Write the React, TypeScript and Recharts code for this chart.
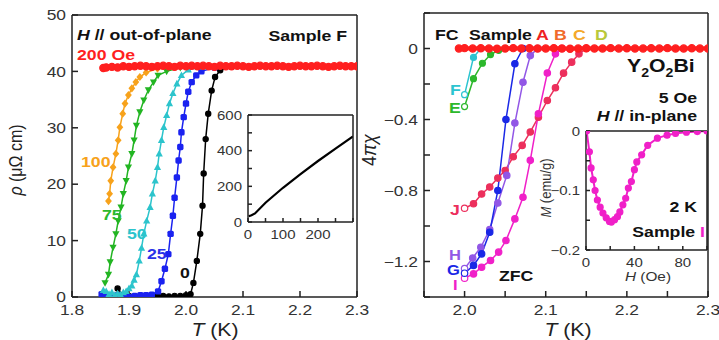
import React from 'react'
import { LineChart, Line, XAxis, YAxis } from 'recharts'

const FONT = '"Liberation Sans", Arial, sans-serif'

// ---- left panel: rho (μΩ cm) vs T (K), one series per field (Oe) ----
const rho0: [number, number][] = [
  [1.88, 1.5], [1.89, 0.3], [1.9, 0.2], [1.92, 0.1], [1.94, 0.1], [1.95, 0.2], [1.96, 0.2],
  [1.97, 0.1], [1.98, 0.2], [1.99, 0.2], [2.0, 0.3], [2.008, 0.5], [2.013, 2.5], [2.019, 6.4],
  [2.025, 11.2], [2.029, 16.2], [2.031, 21.9], [2.0345, 28], [2.039, 32.5], [2.045, 36.6],
  [2.051, 39], [2.06, 40.2], [2.08, 40.8], [2.15, 40.9], [2.3, 40.9],
]
const rho25: [number, number][] = [
  [1.852, 0.5], [1.86, 0.3], [1.87, 0.1], [1.88, 0.3], [1.89, 0.2], [1.9, 0], [1.91, 0.2],
  [1.92, 0.3], [1.93, 0.3], [1.94, 0.4], [1.951, 1], [1.957, 2.8], [1.963, 5], [1.969, 7.6],
  [1.973, 11.2], [1.977, 14.4], [1.98, 17.6], [1.984, 21.2], [1.987, 24.2], [1.99, 26.6],
  [1.992, 29.2], [1.996, 31.9], [2.0, 34.3], [2.004, 36.4], [2.01, 38.1], [2.018, 39.3],
  [2.027, 40.0], [2.05, 40.7], [2.3, 40.9],
]
const rho50: [number, number][] = [
  [1.855, 1.2], [1.86, 1], [1.865, 0.5], [1.87, 0.8], [1.875, 0.3], [1.88, 0.6], [1.885, 0.4],
  [1.89, 0.8], [1.895, 1.0], [1.9, 1.5], [1.905, 2], [1.909, 3], [1.913, 4], [1.918, 6.4],
  [1.922, 8.7], [1.926, 11.2], [1.931, 13.5], [1.937, 15.9], [1.941, 18.3], [1.946, 20.6],
  [1.95, 23], [1.953, 25.4], [1.957, 27.8], [1.961, 30.1], [1.966, 32.2], [1.971, 34.3],
  [1.977, 36.1], [1.984, 37.8], [1.992, 39.3], [2.004, 40.3], [2.03, 40.8], [2.3, 40.9],
]
const rho75: [number, number][] = [
  [1.858, 2.5], [1.864, 4], [1.867, 6.2], [1.872, 8.8], [1.877, 11.2], [1.881, 13.5],
  [1.886, 15.9], [1.89, 18.3], [1.895, 20.6], [1.899, 23], [1.905, 25.4], [1.909, 27.8],
  [1.913, 30.4], [1.919, 32.8], [1.926, 34.9], [1.934, 36.7], [1.943, 38.1], [1.951, 39.3],
  [1.966, 40], [1.99, 40.7], [2.3, 40.9],
]
const rho100: [number, number][] = [
  [1.864, 17], [1.866, 18.3], [1.868, 20.6], [1.872, 23], [1.877, 25.4], [1.881, 27.8],
  [1.884, 30.1], [1.889, 32.5], [1.893, 34.3], [1.899, 35.8], [1.905, 37], [1.912, 38.1],
  [1.919, 39], [1.93, 39.8], [1.95, 40.5], [2.3, 40.9],
]
const rho200: [number, number][] = [
  [1.855, 40.6], [1.86, 40.7], [1.87, 40.8], [1.88, 40.7], [1.89, 40.9], [1.9, 40.8], [1.91, 40.9],
  [1.92, 41.0], [1.93, 40.9], [1.94, 40.8], [1.95, 40.9], [1.96, 41.0], [1.97, 40.9], [1.98, 40.8],
  [1.99, 41.0], [2.0, 40.9], [2.01, 41.0], [2.02, 40.9], [2.03, 41.0], [2.04, 40.9], [2.05, 40.8],
  [2.06, 41.0], [2.07, 40.9], [2.08, 40.9], [2.09, 41.0], [2.1, 40.9], [2.11, 40.8], [2.12, 40.9],
  [2.13, 41.0], [2.14, 40.9], [2.15, 40.9], [2.16, 41.0], [2.17, 40.9], [2.18, 40.8], [2.19, 40.9],
  [2.2, 41.0], [2.21, 40.9], [2.22, 40.9], [2.23, 41.0], [2.24, 40.9], [2.25, 40.8], [2.26, 40.9],
  [2.27, 41.0], [2.28, 40.9], [2.29, 40.9], [2.3, 40.9],
]
// inset: rho vs T up to room temperature
const rhoWide: [number, number][] = [
  [2, 32], [10, 38], [20, 48], [50, 108], [100, 192], [150, 268], [200, 342], [250, 412], [300, 480],
]

// ---- right panel: 4πχ vs T (K), samples E..J (ZFC) and FC ----
const chiF: [number, number][] = [[2.0, -0.26], [2.011, -0.05], [2.02, 0]]
const chiE: [number, number][] = [
  [2.0, -0.327], [2.011, -0.17], [2.022, -0.083], [2.032, -0.034], [2.042, -0.01], [2.05, 0],
]
const chiG: [number, number][] = [
  [2.0, -1.266], [2.011, -1.222], [2.021, -1.157], [2.031, -1.035], [2.041, -0.8],
  [2.051, -0.4], [2.062, -0.086], [2.072, 0],
]
const chiH: [number, number][] = [
  [2.0, -1.24], [2.01, -1.18], [2.02, -1.12], [2.031, -1.02], [2.041, -0.87], [2.052, -0.715],
  [2.062, -0.42], [2.072, -0.19], [2.081, -0.04], [2.09, 0],
]
const chiI: [number, number][] = [
  [2.0, -1.294], [2.011, -1.27], [2.021, -1.232], [2.032, -1.194], [2.042, -1.147],
  [2.051, -1.082], [2.062, -0.96], [2.072, -0.838], [2.081, -0.63], [2.091, -0.368],
  [2.102, -0.138], [2.112, -0.03], [2.12, 0],
]
const chiJ: [number, number][] = [
  [2.0, -0.9], [2.011, -0.875], [2.021, -0.82], [2.031, -0.78], [2.041, -0.73], [2.05, -0.687],
  [2.06, -0.61], [2.071, -0.546], [2.081, -0.47], [2.091, -0.387], [2.102, -0.293],
  [2.112, -0.221], [2.122, -0.139], [2.132, -0.077], [2.141, -0.03], [2.15, 0],
]
const chiFC: [number, number][] = [
  [1.993, 0], [2.0, 0.002], [2.01, 0], [2.02, 0.001], [2.03, 0], [2.04, -0.001], [2.05, 0],
  [2.06, 0.002], [2.07, 0], [2.08, 0.001], [2.09, 0], [2.1, 0], [2.11, 0.002], [2.12, 0],
  [2.13, -0.001], [2.14, 0], [2.15, 0.001], [2.16, 0], [2.17, 0], [2.18, 0.002], [2.19, 0],
  [2.2, 0.001], [2.21, 0], [2.22, 0], [2.23, 0.001], [2.24, 0], [2.25, 0.002], [2.26, 0],
  [2.27, 0], [2.28, 0.001], [2.29, 0], [2.3, 0],
]
// inset: M (emu/g) vs H (Oe) at 2 K, sample I
const magI: [number, number][] = [
  [0.5, 0], [2.8, -0.035], [4.2, -0.062], [6, -0.082], [7.5, -0.1], [9.4, -0.116], [11.7, -0.128],
  [14, -0.138], [16.7, -0.146], [19.4, -0.152], [21, -0.153], [23.6, -0.149], [26, -0.144],
  [28, -0.136], [30.5, -0.124], [32.8, -0.113], [35, -0.096], [37.5, -0.085], [40, -0.065],
  [42, -0.052], [46, -0.04], [51, -0.024], [59, -0.012], [67, -0.007], [74, -0.004],
  [83, -0.002], [92, -0.001], [100, 0],
]

const leftXTicks = [1.8, 1.9, 2.0, 2.1, 2.2, 2.3]
const leftYTicks = [0, 10, 20, 30, 40, 50]
const rightXTicks = [1.95, 2.0, 2.05, 2.1, 2.15, 2.2, 2.25, 2.3]
const rightYTicks = [-1.4, -1.2, -1.0, -0.8, -0.6, -0.4, -0.2, 0, 0.2]
const insetTTicks = [0, 50, 100, 150, 200, 250, 300]
const insetRhoTicks = [0, 100, 200, 300, 400, 500, 600]
const insetHTicks = [0, 20, 40, 60, 80, 100]
const insetMTicks = [-0.2, -0.15, -0.1, -0.05, 0]

const pts = (a: [number, number][]) => a.map(([x, y]) => ({ x, y }))
const minus = (v: number, d: number) => (v < 0 ? '\u2212' : '') + Math.abs(v).toFixed(d)

type Shape = 'circle' | 'square' | 'up' | 'down' | 'diamond'
const marker = (shape: Shape, color: string, r: number, openFirst = false) => (p: any) => {
  const { cx, cy, index } = p
  const key = `${shape}-${color}-${index}`
  if (cx == null || cy == null) return <g key={key} />
  const fill = openFirst && index === 0 ? '#fff' : color
  if (shape === 'square')
    return <rect key={key} x={cx - r} y={cy - r} width={2 * r} height={2 * r} rx={r * 0.5} fill={fill} />
  if (shape === 'up')
    return <polygon key={key} points={`${cx},${cy - r * 1.1} ${cx - r},${cy + r * 0.75} ${cx + r},${cy + r * 0.75}`} fill={fill} />
  if (shape === 'down')
    return <polygon key={key} points={`${cx},${cy + r * 1.1} ${cx - r},${cy - r * 0.75} ${cx + r},${cy - r * 0.75}`} fill={fill} />
  if (shape === 'diamond')
    return <polygon key={key} points={`${cx},${cy - r * 1.2} ${cx + r},${cy} ${cx},${cy + r * 1.2} ${cx - r},${cy}`} fill={fill} />
  return <circle key={key} cx={cx} cy={cy} r={r} fill={fill} stroke={color} strokeWidth={1.2} />
}

const tickText = (fmt: (v: number) => string, dy: string, size = 14.5) => (p: any) => {
  const label = fmt(p.payload.value)
  if (!label) return <g />
  return (
    <text transform={`translate(${p.x},${p.y}) scale(1.2,1)`} textAnchor={p.textAnchor} dy={dy}
      fontSize={size} fill="#333" fontFamily={FONT}>{label}</text>
  )
}

const line = { stroke: '#222', strokeWidth: 1.5 }

function Txt({ x, y, children, size = 15, anchor = 'start', weight = 'bold', fill = '#111', rot = 0 }: any) {
  const tf = rot
    ? `translate(${x},${y}) rotate(${rot}) scale(1,1.15)`
    : `translate(${x},${y}) scale(1.18,1)`
  return (
    <text transform={tf} textAnchor={anchor} fontSize={size} fontWeight={weight} fill={fill} fontFamily={FONT}>
      {children}
    </text>
  )
}

function Frame({ xTicks, yTicks, xDom, yDom, xFmt, yFmt, topH, rightW, bottomH, leftW, size, ts }: any) {
  return [
    <XAxis key="xb" xAxisId="b" type="number" dataKey="x" domain={xDom} ticks={xTicks} allowDataOverflow
      interval={0} height={bottomH} tickSize={ts} tickMargin={-ts + 8} axisLine={line} tickLine={line}
      tick={tickText(xFmt, '0.72em', size)} />,
    <XAxis key="xt" xAxisId="t" type="number" orientation="top" domain={xDom} ticks={xTicks} allowDataOverflow
      interval={0} height={topH} tickSize={ts} axisLine={line} tickLine={line} tick={false} />,
    <YAxis key="yl" yAxisId="l" type="number" domain={yDom} ticks={yTicks} allowDataOverflow
      interval={0} width={leftW} tickSize={ts} tickMargin={-ts + 6} axisLine={line} tickLine={line}
      tick={tickText(yFmt, '0.36em', size)} />,
    <YAxis key="yr" yAxisId="r" type="number" orientation="right" domain={yDom} ticks={yTicks} allowDataOverflow
      interval={0} width={rightW} tickSize={ts} axisLine={line} tickLine={line} tick={false} />,
  ]
}

export default function App() {
  const series = (data: [number, number][], color: string, dot: any, w = 1.5) => (
    <Line xAxisId="b" yAxisId="l" data={pts(data)} dataKey="y" stroke={color} strokeWidth={w}
      dot={dot} isAnimationActive={false} />
  )
  return (
    <div style={{ position: 'absolute', left: 0, top: 0, width: 719, height: 340, background: '#fff', overflow: 'hidden' }}>
      <div style={{ position: 'absolute', left: 0, top: 0 }}>
        <LineChart width={370} height={340} margin={{ top: 5, right: 0, bottom: 13, left: 12 }}>
          {Frame({
            xTicks: leftXTicks, yTicks: leftYTicks, xDom: [1.8, 2.3], yDom: [0, 50],
            xFmt: (v: number) => v.toFixed(1), yFmt: (v: number) => String(v),
            topH: 10, rightW: 13, bottomH: 30, leftW: 60, size: 14.5, ts: -6,
          })}
          {series(rho0, '#000', marker('circle', '#000', 2.6))}
          {series(rho25, '#1a22f0', marker('square', '#1a22f0', 3.2))}
          {series(rho50, '#2cc4cc', marker('up', '#2cc4cc', 3.6))}
          {series(rho75, '#22b522', marker('down', '#22b522', 3.6))}
          {series(rho100, '#f7a21b', marker('diamond', '#f7a21b', 3.4))}
          {series(rho200, '#ff1f1f', marker('circle', '#ff1f1f', 3.6), 4)}
        </LineChart>
      </div>
      <div style={{ position: 'absolute', left: 200, top: 100 }}>
        <LineChart width={160} height={150} margin={{ top: 5, right: 0, bottom: 8, left: 8 }}>
          {Frame({
            xTicks: insetTTicks, yTicks: insetRhoTicks, xDom: [0, 300], yDom: [0, 600],
            xFmt: (v: number) => (v % 100 === 0 && v < 300 ? String(v) : ''),
            yFmt: (v: number) => (v % 200 === 0 ? String(v) : ''),
            topH: 10, rightW: 7, bottomH: 20, leftW: 40, size: 12.5, ts: -4,
          })}
          {series(rhoWide, '#000', false, 2.2)}
        </LineChart>
      </div>
      <div style={{ position: 'absolute', left: 360, top: 0 }}>
        <LineChart width={360} height={340} margin={{ top: 3, right: 0, bottom: 13, left: 4 }}>
          {Frame({
            xTicks: rightXTicks, yTicks: rightYTicks, xDom: [1.95, 2.3], yDom: [-1.4, 0.2],
            xFmt: (v: number) => (Math.round(v * 100) % 10 === 0 ? v.toFixed(1) : ''),
            yFmt: (v: number) => (Math.abs(v) < 1e-9 ? '0' : Math.round(v * 10) % 4 === 0 ? minus(v, 1) : ''),
            topH: 10, rightW: 12, bottomH: 30, leftW: 60, size: 14.5, ts: -6,
          })}
          {series(chiF, '#2cc4d0', marker('circle', '#2cc4d0', 3, true))}
          {series(chiE, '#2cb82c', marker('circle', '#2cb82c', 3, true))}
          {series(chiJ, '#ec2f5c', marker('circle', '#ec2f5c', 3.2, true))}
          {series(chiI, '#f020c8', marker('circle', '#f020c8', 3.2, true))}
          {series(chiH, '#9257e6', marker('circle', '#9257e6', 3.2, true))}
          {series(chiG, '#1a28e6', marker('circle', '#1a28e6', 3.2, true))}
          {series(chiFC, '#ff1f1f', marker('circle', '#ff1f1f', 3.6), 4)}
        </LineChart>
      </div>
      <div style={{ position: 'absolute', left: 530, top: 115 }}>
        <LineChart width={190} height={175} margin={{ top: 6, right: 0, bottom: 20, left: 11 }}>
          {Frame({
            xTicks: insetHTicks, yTicks: insetMTicks, xDom: [0, 100], yDom: [-0.2, 0],
            xFmt: (v: number) => (v % 40 === 0 && v < 100 ? String(v) : ''),
            yFmt: (v: number) => (Math.abs(v) < 1e-9 ? '0' : Math.round(v * 100) % 10 === 0 ? minus(v, 1) : ''),
            topH: 10, rightW: 13, bottomH: 20, leftW: 45, size: 12.5, ts: -4,
          })}
          {series(magI, '#f020c8', marker('circle', '#f020c8', 3), 2)}
        </LineChart>
      </div>
      <svg width={719} height={340} style={{ position: 'absolute', left: 0, top: 0, pointerEvents: 'none' }}>
        {/* left panel */}
        <Txt x={77} y={40}><tspan fontStyle="italic">H</tspan> // out-of-plane</Txt>
        <Txt x={347} y={41} anchor="end">Sample F</Txt>
        <Txt x={77} y={60} fill="#ff1f1f">200 Oe</Txt>
        <Txt x={81} y={167} fill="#f7a21b">100</Txt>
        <Txt x={102} y={220} fill="#2cb82c">75</Txt>
        <Txt x={127} y={239} fill="#2cc4cc">50</Txt>
        <Txt x={147} y={259} fill="#2a32e8">25</Txt>
        <Txt x={180} y={278}>0</Txt>
        <Txt x={22} y={160} rot={-90} anchor="middle" size={16} weight="normal" fill="#222">
          <tspan fontStyle="italic">ρ</tspan> (μΩ cm)
        </Txt>
        <Txt x={215} y={336} anchor="middle" size={18} weight="normal" fill="#222">
          <tspan fontStyle="italic">T</tspan> (K)
        </Txt>
        {/* right panel */}
        <Txt x={435} y={40}>FC</Txt>
        <Txt x={469} y={40}>Sample</Txt>
        <Txt x={536} y={40} fill="#ee2222">A</Txt>
        <Txt x={554} y={40} fill="#f06a2a">B</Txt>
        <Txt x={573} y={40} fill="#f4a92a">C</Txt>
        <Txt x={595} y={40} fill="#b9c83a">D</Txt>
        <Txt x={627} y={72} size={18}>
          Y<tspan fontSize={12} dy={5}>2</tspan><tspan dy={-5}>O</tspan><tspan fontSize={12} dy={5}>2</tspan><tspan dy={-5}>Bi</tspan>
        </Txt>
        <Txt x={697} y={103} anchor="end">5 Oe</Txt>
        <Txt x={697} y={121} anchor="end"><tspan fontStyle="italic">H</tspan> // in-plane</Txt>
        <Txt x={450} y={95} fill="#2cc4d0">F</Txt>
        <Txt x={449} y={113} fill="#2cb82c">E</Txt>
        <Txt x={450} y={215} fill="#ec2f5c">J</Txt>
        <Txt x={449} y={260} size={14} fill="#9257e6">H</Txt>
        <Txt x={447} y={275} size={14} fill="#1a28e6">G</Txt>
        <Txt x={453} y={290} size={14} fill="#f020c8">I</Txt>
        <Txt x={499} y={281}>ZFC</Txt>
        <Txt x={697} y={212} anchor="end">2 K</Txt>
        <Txt x={705} y={237} anchor="end">Sample <tspan fill="#f020c8">I</tspan></Txt>
        <Txt x={551} y={188} rot={-90} anchor="middle" size={13} weight="normal" fill="#333">
          <tspan fontStyle="italic">M</tspan> (emu/g)
        </Txt>
        <Txt x={648} y={281} anchor="middle" size={13} weight="normal" fill="#333">
          <tspan fontStyle="italic">H</tspan> (Oe)
        </Txt>
        <Txt x={376} y={150} rot={-90} anchor="middle" size={18} weight="normal" fill="#222">
          4<tspan fontStyle="italic">πχ</tspan>
        </Txt>
        <Txt x={568} y={336} anchor="middle" size={18} weight="normal" fill="#222">
          <tspan fontStyle="italic">T</tspan> (K)
        </Txt>
      </svg>
    </div>
  )
}
